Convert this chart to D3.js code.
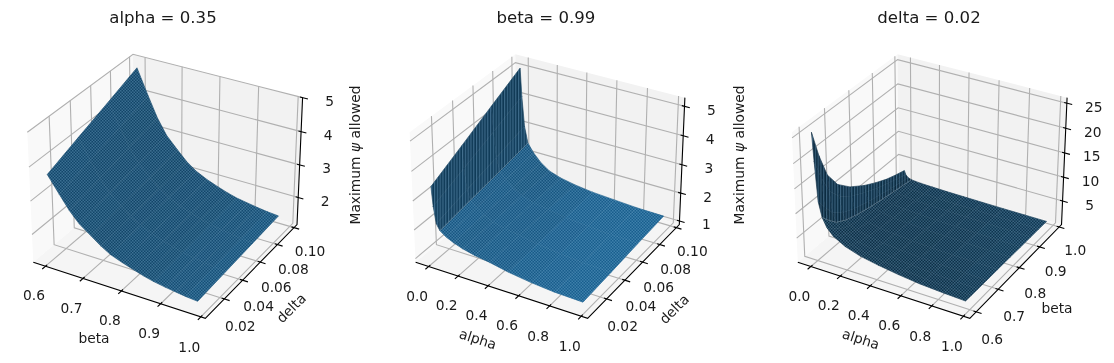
<!DOCTYPE html>
<html>
<head>
<meta charset="utf-8">
<script src="https://cdn.jsdelivr.net/npm/d3@7"></script>
<style>
  html, body { margin: 0; background: #fff; overflow: hidden; }
  svg { display: block; filter: blur(0.35px); }
  text { font-family: "DejaVu Sans", sans-serif; fill: #1a1a1a; }
</style>
</head>
<body>
<div id="chart"></div>
<script>
// values
var betaGrid = [0.60, 0.63, 0.655, 0.68, 0.71, 0.735, 0.76, 0.79, 0.82, 0.845, 0.87, 0.90, 0.925, 0.95, 0.98];
var deltaGrid = [0.005, 0.035, 0.065, 0.095];
var alphaGrid = [0, 0.01, 0.027, 0.05, 0.09, 0.14, 0.2, 0.28, 0.38, 0.5, 0.65, 0.8, 0.98];
var alphaGridB = [0, 0.01, 0.027, 0.05, 0.08, 0.12, 0.2, 0.3, 0.42, 0.55, 0.69, 0.84, 0.98];
var betaGridB = [0.595, 0.62, 0.65, 0.69, 0.74, 0.80, 0.85, 0.90, 0.94, 0.98];

// rows follow delta, columns follow beta
var psiAlpha = [
  [3.77, 3.29, 2.90, 2.59, 2.34, 2.13, 1.96, 1.83, 1.72, 1.63, 1.56, 1.50, 1.46, 1.42, 1.39],
  [4.14, 3.56, 3.10, 2.74, 2.46, 2.22, 2.04, 1.90, 1.78, 1.69, 1.61, 1.55, 1.51, 1.47, 1.44],
  [4.50, 3.84, 3.31, 2.90, 2.57, 2.32, 2.12, 1.96, 1.84, 1.74, 1.67, 1.61, 1.56, 1.52, 1.49],
  [4.87, 4.11, 3.51, 3.05, 2.69, 2.41, 2.20, 2.03, 1.90, 1.80, 1.72, 1.66, 1.61, 1.57, 1.54]
];
// rows follow delta, columns follow alpha
var psiBeta = [
  [3.48, 2.83, 2.25, 2.05, 1.90, 1.78, 1.67, 1.57, 1.49, 1.36, 1.25, 1.18, 1.15],
  [4.03, 3.27, 2.55, 2.23, 2.02, 1.85, 1.70, 1.59, 1.51, 1.40, 1.30, 1.24, 1.21],
  [4.59, 3.72, 2.84, 2.39, 2.15, 1.93, 1.75, 1.62, 1.52, 1.43, 1.35, 1.30, 1.28],
  [5.14, 4.17, 3.14, 2.57, 2.27, 2.00, 1.78, 1.64, 1.54, 1.46, 1.41, 1.36, 1.34]
];
// rows follow beta, columns follow alpha
var psiDelta = [
  [26.0, 20.5, 12.6, 9.6, 7.8, 6.5, 5.1, 4.1, 3.4, 2.8, 2.3, 2.0, 1.8],
  [20.5, 16.2, 10.4, 8.0, 6.5, 5.5, 4.4, 3.6, 3.05, 2.57, 2.17, 1.93, 1.78],
  [15.5, 12.35, 8.05, 6.3, 5.24, 4.49, 3.68, 3.08, 2.69, 2.33, 2.04, 1.86, 1.75],
  [12.0, 9.64, 6.42, 5.12, 4.32, 3.76, 3.15, 2.71, 2.41, 2.14, 1.93, 1.79, 1.71],
  [9.5, 7.71, 5.26, 4.26, 3.66, 3.23, 2.77, 2.43, 2.2, 2.0, 1.83, 1.73, 1.67],
  [7.4, 6.08, 4.27, 3.53, 3.09, 2.77, 2.43, 2.18, 2.01, 1.86, 1.74, 1.67, 1.62],
  [6.0, 4.99, 3.6, 3.04, 2.7, 2.45, 2.19, 2.0, 1.87, 1.76, 1.66, 1.61, 1.57],
  [4.8, 4.05, 3.03, 2.61, 2.36, 2.18, 1.99, 1.85, 1.75, 1.67, 1.6, 1.56, 1.53],
  [4.1, 3.4, 2.59, 2.29, 2.1, 1.97, 1.83, 1.72, 1.65, 1.59, 1.54, 1.51, 1.49],
  [3.5, 2.7, 2.16, 1.96, 1.84, 1.76, 1.67, 1.6, 1.56, 1.52, 1.48, 1.46, 1.45]
];

var tickBeta = [0.6, 0.7, 0.8, 0.9, 1.0];
var tickDelta = [0.02, 0.04, 0.06, 0.08, 0.10];
var tickAlpha = [0, 0.2, 0.4, 0.6, 0.8, 1.0];

var width = 1114, height = 363;
var svg = d3.select('#chart').append('svg')
    .attr('width', width)
    .attr('height', height);

var defs = svg.append('defs');
var checker = defs.append('pattern').attr('id', 'checker')
    .attr('patternUnits', 'userSpaceOnUse').attr('width', 3).attr('height', 3);
checker.append('rect').attr('width', 1.5).attr('height', 1.5).attr('fill', 'rgba(150,205,240,0.3)');
checker.append('rect').attr('x', 1.5).attr('y', 1.5).attr('width', 1.5).attr('height', 1.5).attr('fill', 'rgba(150,205,240,0.3)');
var stripes = defs.append('pattern').attr('id', 'stripes')
    .attr('patternUnits', 'userSpaceOnUse').attr('width', 2.8).attr('height', 4);
stripes.append('rect').attr('width', 1.2).attr('height', 4).attr('fill', 'rgba(130,180,215,0.4)');

// matplotlib default view: azim -60, elev 30, box 4:4:3
var boxX = 1.1428, boxY = 1.1428, boxZ = 0.857;
var u = [0.866, 0.5, 0], v = [-0.25, 0.433, 0.866], w = [0.433, -0.75, 0.5];
var light = [-0.6667, -0.6667, 0.3333];
var baseColor = d3.rgb('#1f77b4');

function project(p) {
  var rx = boxX * (p[0] - 0.5), ry = boxY * (p[1] - 0.5), rz = boxZ * (p[2] - 0.5);
  var depth = 10 - (w[0] * rx + w[1] * ry + w[2] * rz);
  return {
    x: (u[0] * rx + u[1] * ry) / depth,
    y: (v[0] * rx + v[1] * ry + v[2] * rz) / depth,
    depth: depth
  };
}

function drawPanel(cfg) {
  var g = svg.append('g').attr('class', 'panel');
  var px = d3.scaleLinear().domain([-0.1, 0.1]).range([cfg.cx - 172.5, cfg.cx + 172.5]);
  var py = d3.scaleLinear().domain([-0.1, 0.1]).range([180.2 + 173, 180.2 - 173]);
  var sx = d3.scaleLinear().domain(cfg.xDomain).range([0, 1]);
  var sy = d3.scaleLinear().domain(cfg.yDomain).range([0, 1]);
  var sz = d3.scaleLinear().domain(cfg.zDomain).range([0, 1]);

  function pt(a, b, c) {
    var p = project([a, b, c]);
    return [px(p.x), py(p.y)];
  }
  var line = d3.line();

  // panes
  var panes = [
    {fill: '#f9f9f9', pts: [pt(0, 0, 0), pt(0, 1, 0), pt(0, 1, 1), pt(0, 0, 1)]},
    {fill: '#f2f2f2', pts: [pt(0, 1, 0), pt(1, 1, 0), pt(1, 1, 1), pt(0, 1, 1)]},
    {fill: '#f5f5f5', pts: [pt(0, 0, 0), pt(1, 0, 0), pt(1, 1, 0), pt(0, 1, 0)]}
  ];
  g.selectAll('.pane').data(panes).enter().append('path')
      .attr('class', 'pane')
      .attr('fill', function(d) { return d.fill; })
      .attr('d', function(d) { return line(d.pts) + 'Z'; });

  // grid lines
  var grid = [];
  cfg.xTicks.forEach(function(t) {
    var a = sx(t);
    grid.push([pt(a, 0, 0), pt(a, 1, 0), pt(a, 1, 1)]);
  });
  cfg.yTicks.forEach(function(t) {
    var b = sy(t);
    grid.push([pt(1, b, 0), pt(0, b, 0), pt(0, b, 1)]);
  });
  cfg.zTicks.forEach(function(t) {
    var c = sz(t);
    grid.push([pt(0, 0, c), pt(0, 1, c), pt(1, 1, c)]);
  });
  g.selectAll('.grid').data(grid).enter().append('path')
      .attr('class', 'grid')
      .attr('fill', 'none')
      .attr('stroke', '#b0b0b0')
      .attr('stroke-width', 1.1)
      .attr('d', line);

  // axis lines
  g.append('path')
      .attr('fill', 'none')
      .attr('stroke', '#000')
      .attr('stroke-width', 1.1)
      .attr('d', line([pt(0, 0, 0), pt(1, 0, 0), pt(1, 1, 0), pt(1, 1, 1)]));

  // tick marks and tick labels
  var xT = g.selectAll('.xtick').data(cfg.xTicks).enter().append('g').attr('class', 'xtick');
  xT.append('path').attr('stroke', '#000').attr('stroke-width', 1.1)
      .attr('d', function(d) { return line([pt(sx(d), 0.015, 0), pt(sx(d), -0.03, 0)]); });
  xT.append('text').attr('text-anchor', 'middle').attr('dy', '0.36em').attr('font-size', 13.8)
      .attr('x', function(d) { return pt(sx(d), 0, 0)[0] - 11.5; })
      .attr('y', function(d) { return pt(sx(d), 0, 0)[1] + 29 + sx(d); })
      .text(function(d) { return d3.format('.1f')(d); });

  var yT = g.selectAll('.ytick').data(cfg.yTicks).enter().append('g').attr('class', 'ytick');
  yT.append('path').attr('stroke', '#000').attr('stroke-width', 1.1)
      .attr('d', function(d) { return line([pt(0.985, sy(d), 0), pt(1.03, sy(d), 0)]); });
  yT.append('text').attr('text-anchor', 'middle').attr('dy', '0.36em').attr('font-size', 13.8)
      .attr('x', function(d) { return pt(1, sy(d), 0)[0] + 16; })
      .attr('y', function(d) { return pt(1, sy(d), 0)[1] + 28 - 5 * sy(d); })
      .text(function(d) { return d3.format(cfg.yFormat)(d); });

  var zT = g.selectAll('.ztick').data(cfg.zTicks).enter().append('g').attr('class', 'ztick');
  zT.append('path').attr('stroke', '#000').attr('stroke-width', 1.1)
      .attr('d', function(d) { return line([pt(0.985, 1, sz(d)), pt(1.03, 1, sz(d))]); });
  zT.append('text').attr('text-anchor', 'middle').attr('dy', '0.36em').attr('font-size', 13.8)
      .attr('x', function(d) { return pt(1, 1, sz(d))[0] + 27; })
      .attr('y', function(d) { return pt(1, 1, sz(d))[1] + 3.5; })
      .text(function(d) { return d; });

  // surface cells, far ones first
  var quads = [];
  for (var j = 0; j < cfg.yGrid.length - 1; j++) {
    for (var i = 0; i < cfg.xGrid.length - 1; i++) {
      var x0 = cfg.xGrid[i], x1 = cfg.xGrid[i + 1], y0 = cfg.yGrid[j], y1 = cfg.yGrid[j + 1];
      var z00 = cfg.z[j][i], z10 = cfg.z[j][i + 1], z11 = cfg.z[j + 1][i + 1], z01 = cfg.z[j + 1][i];
      // shading as plot_surface does it, in data units
      var d1 = [x1 - x0, y1 - y0, z11 - z00], d2 = [x0 - x1, y1 - y0, z01 - z10];
      var n = [d1[1] * d2[2] - d1[2] * d2[1], d1[2] * d2[0] - d1[0] * d2[2], d1[0] * d2[1] - d1[1] * d2[0]];
      var len = Math.sqrt(n[0] * n[0] + n[1] * n[1] + n[2] * n[2]);
      var shade = (n[0] * light[0] + n[1] * light[1] + n[2] * light[2]) / len;
      var isWall = x1 <= cfg.wallBelow;
      var corners = [[sx(x0), sy(y0), sz(z00)], [sx(x1), sy(y0), sz(z10)], [sx(x1), sy(y1), sz(z11)], [sx(x0), sy(y1), sz(z01)]];
      quads.push({
        pts: corners.map(function(c) { return pt(c[0], c[1], c[2]); }),
        depth: d3.mean(corners, function(c) { return project(c).depth; }),
        k: 0.3 + 0.7 * (shade + 1) / 2,
        wall: isWall
      });
    }
  }
  // coarse cells facet too hard, so pull the open part toward its mean tone
  var meanK = d3.mean(quads.filter(function(d) { return !d.wall; }), function(d) { return d.k; });
  quads.forEach(function(d) {
    var k = d.wall ? Math.min(d.k, 0.5) : meanK + 0.35 * (d.k - meanK);
    d.color = d3.rgb(baseColor.r * k, baseColor.g * k, baseColor.b * k).formatHex();
  });
  quads.sort(function(a, b) { return b.depth - a.depth; });
  g.selectAll('.cell').data(quads).enter().append('path')
      .attr('class', 'cell')
      .attr('fill', function(d) { return d.color; })
      .attr('stroke', function(d) { return d.color; })
      .attr('stroke-width', 0.6)
      .attr('d', function(d) { return line(d.pts) + 'Z'; });

  // fine mesh texture, one path per kind so no seams show between cells
  g.append('path')
      .attr('fill', 'url(#checker)')
      .attr('d', quads.filter(function(d) { return !d.wall; }).map(function(d) { return line(d.pts) + 'Z'; }).join(''));
  g.append('path')
      .attr('fill', 'url(#stripes)')
      .attr('d', quads.filter(function(d) { return d.wall; }).map(function(d) { return line(d.pts) + 'Z'; }).join(''));

  // pale line along the fold of the surface
  if (cfg.wallBelow > 0) {
    var col = cfg.xGrid.indexOf(cfg.wallBelow);
    g.append('path')
        .attr('fill', 'none')
        .attr('stroke', 'rgba(175,190,200,0.35)')
        .attr('stroke-width', 0.9)
        .attr('d', line(cfg.yGrid.map(function(y, j) { return pt(sx(cfg.wallBelow), sy(y), sz(cfg.z[j][col])); })));
  }

  // titles and axis labels
  g.append('text').attr('text-anchor', 'middle').attr('x', cfg.titleX).attr('y', 22.5)
      .attr('font-size', 16.6).text(cfg.title);
  cfg.labels.forEach(function(l) {
    var t = g.append('text').attr('text-anchor', 'middle').attr('dy', '0.36em').attr('font-size', 13.8)
        .attr('transform', 'translate(' + l.x + ',' + l.y + ') rotate(' + l.rot + ')');
    if (l.text === 'psi') {
      t.append('tspan').text('Maximum ');
      t.append('tspan').attr('font-style', 'italic').text('\u03c8');
      t.append('tspan').text(' allowed');
    } else {
      t.text(l.text);
    }
  });
}

drawPanel({
  cx: 167.5, title: 'alpha = 0.35', titleX: 163,
  xDomain: [0.567, 1.011], yDomain: [0, 0.1037], zDomain: [1.15, 5.0],
  xTicks: tickBeta, yTicks: tickDelta, zTicks: [2, 3, 4, 5], yFormat: '.2f',
  xGrid: betaGrid, yGrid: deltaGrid, z: psiAlpha, wallBelow: 0,
  labels: [
    {text: 'beta', x: 94, y: 338, rot: 0},
    {text: 'delta', x: 291, y: 308, rot: -45},
    {text: 'psi', x: 355, y: 155, rot: -90}
  ]
});
drawPanel({
  cx: 549.8, title: 'beta = 0.99', titleX: 546,
  xDomain: [-0.09, 1.04], yDomain: [0, 0.1037], zDomain: [0.87, 5.29],
  xTicks: tickAlpha, yTicks: tickDelta, zTicks: [1, 2, 3, 4, 5], yFormat: '.2f',
  xGrid: alphaGrid, yGrid: deltaGrid, z: psiBeta, wallBelow: 0.05,
  labels: [
    {text: 'alpha', x: 478, y: 339, rot: 18},
    {text: 'delta', x: 674, y: 309, rot: -45},
    {text: 'psi', x: 739, y: 155, rot: -90}
  ]
});
drawPanel({
  cx: 932, title: 'delta = 0.02', titleX: 929,
  xDomain: [-0.09, 1.04], yDomain: [0.572, 1.012], zDomain: [0, 26.1],
  xTicks: tickAlpha, yTicks: tickBeta, zTicks: [5, 10, 15, 20, 25], yFormat: '.1f',
  xGrid: alphaGridB, yGrid: betaGridB, z: psiDelta, wallBelow: 0.05,
  labels: [
    {text: 'alpha', x: 861, y: 339, rot: 18},
    {text: 'beta', x: 1057, y: 308, rot: 0},
    {text: 'psi', x: 1122, y: 155, rot: -90}
  ]
});
</script>
</body>
</html>
